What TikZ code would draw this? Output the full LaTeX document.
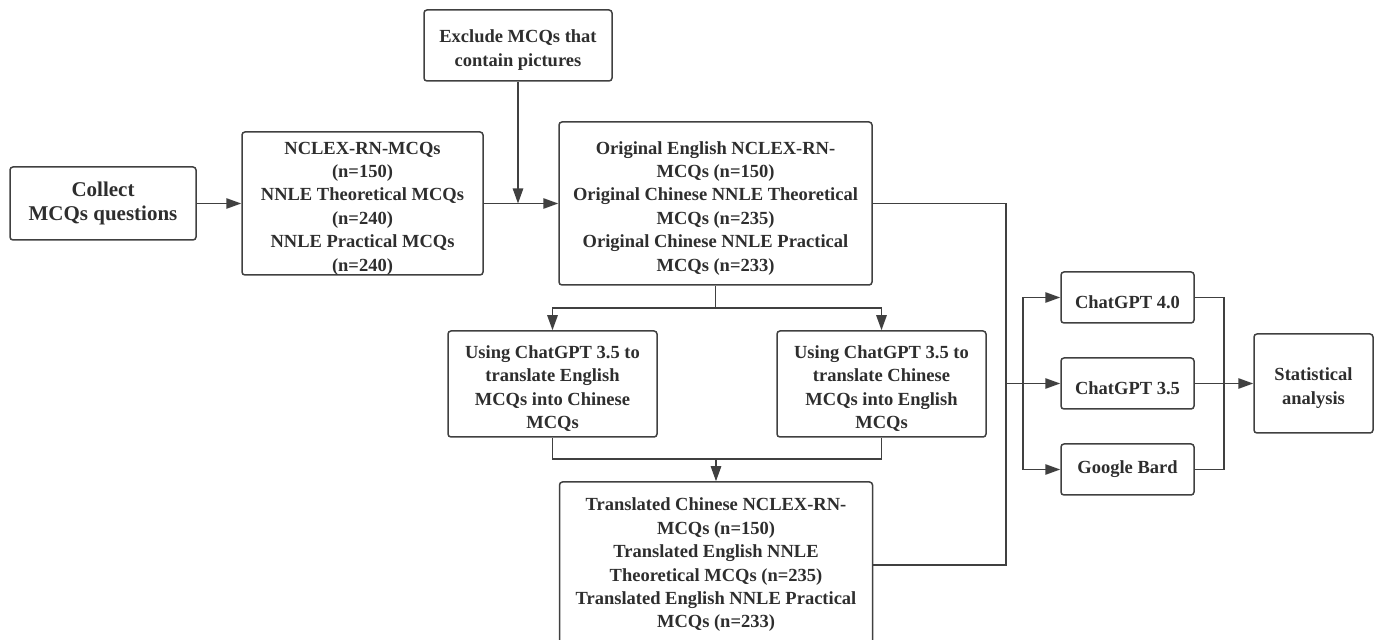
\documentclass[tikz,border=0pt]{standalone}
\usepackage{fontspec}
\setmainfont{Liberation Serif}
\usetikzlibrary{arrows.meta}
\definecolor{ink}{HTML}{2E2E2E}
\definecolor{wire}{HTML}{404040}
\newcommand{\topgap}{\rule{0pt}{11pt}}
\tikzset{
	box/.style={draw=wire, line width=0.75pt, rounded corners=1.5pt, align=center, inner sep=0pt,
		text=ink, font=\fontsize{9.25}{11.7}\selectfont\bfseries},
	arr/.style={-{Triangle[length=7.5pt,width=5.2pt]}},
}
\begin{document}
\begin{tikzpicture}[x=0.5pt, y=-0.5pt, line width=0.75pt, draw=wire]
		\useasboundingbox (0,0) rectangle (1376,640);
		\node[box, minimum width=93pt, minimum height=36.5pt, font=\fontsize{10.5}{12}\selectfont\bfseries] (collect) at (103,203.5) {Collect\\MCQs questions};
		\node[box, minimum width=120.5pt, minimum height=71.5pt] (nclex) at (362.5,203.5) {\topgap NCLEX-RN-MCQs\\(n=150)\\NNLE Theoretical MCQs\\(n=240)\\NNLE Practical MCQs\\(n=240)};
		\node[box, minimum width=94pt, minimum height=35.5pt] (exclude) at (518,45.5) {\topgap Exclude MCQs that\\contain pictures};
		\node[box, minimum width=156.5pt, minimum height=81.5pt] (orig) at (715.5,203.5) {\topgap Original English NCLEX-RN-\\MCQs (n=150)\\Original Chinese NNLE Theoretical\\MCQs (n=235)\\Original Chinese NNLE Practical\\MCQs (n=233)};
		\node[box, minimum width=104.5pt, minimum height=53pt] (usel) at (552.5,384) {\topgap Using ChatGPT 3.5 to\\translate English\\MCQs into Chinese\\MCQs};
		\node[box, minimum width=104.5pt, minimum height=53pt] (user) at (881.5,384) {\topgap Using ChatGPT 3.5 to\\translate Chinese\\MCQs into English\\MCQs};
		\node[box, minimum width=156.5pt, minimum height=83pt] (trans) at (716,565) {Translated Chinese NCLEX-RN-\\MCQs (n=150)\\Translated English NNLE\\Theoretical MCQs (n=235)\\Translated English NNLE Practical\\MCQs (n=233)};
		\node[box, minimum width=66.5pt, minimum height=25.5pt] (gpt4) at (1127.5,297.5) {\topgap ChatGPT 4.0};
		\node[box, minimum width=66.5pt, minimum height=25.5pt] (gpt35) at (1127.5,383.5) {\topgap ChatGPT 3.5};
		\node[box, minimum width=66.5pt, minimum height=25.5pt] (bard) at (1127.5,469.5) {Google Bard};
		\node[box, minimum width=59.5pt, minimum height=49.5pt] (stat) at (1313.5,383.5) {\topgap Statistical\\analysis};
		% junction points
		\coordinate (join) at (518,203.5);
		\coordinate (split) at (715.5,308);
		\coordinate (merge) at (716,459);
		\coordinate (bus) at (1006,383.5);
		\coordinate (fan) at (1023,383.5);
		\coordinate (gather) at (1224,383.5);
		\draw[arr] (collect) -- (nclex);
		\draw[arr] (nclex) -- (orig);
		\draw[arr] (exclude) -- (join);
		\draw (orig) -- (split);
		\draw[arr] (split) -| (usel);
		\draw[arr] (split) -| (user);
		\draw (usel) |- (merge);
		\draw (user) |- (merge);
		\draw[arr] (merge) -- (trans);
		\draw (orig.east) -| (bus) |- (trans.east);
		\draw (bus) -- (fan);
		\draw[arr] (fan) |- (gpt4);
		\draw[arr] (fan) -- (gpt35);
		\draw[arr] (fan) |- (bard);
		\draw (gpt4) -| (gather);
		\draw (bard) -| (gather);
		\draw[arr] (gpt35) -- (stat);
	\end{tikzpicture}
\end{document}
